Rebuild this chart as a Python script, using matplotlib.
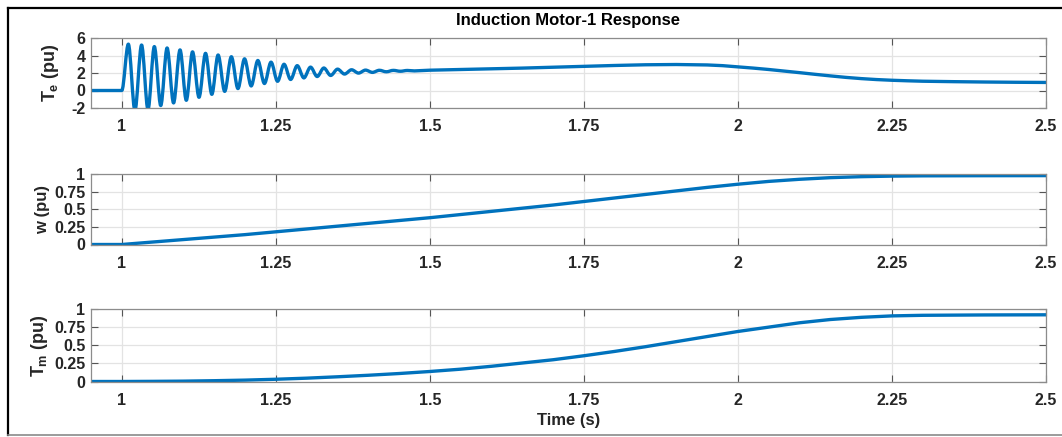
#!/usr/bin/env python3
"""
Induction motor start-up: electrical torque, speed and load torque vs time.
Three stacked panels in MATLAB look.
"""

import matplotlib
matplotlib.use("Agg")
import matplotlib.pyplot as plt
import numpy as np
from matplotlib.path import Path
from matplotlib.patches import PathPatch
from matplotlib.lines import Line2D

# ---- Te: oscillation extrema ----
te_peak_t = [1.0106, 1.0321, 1.0528, 1.0735, 1.0945, 1.1148, 1.1359, 1.1563,
             1.1778, 1.1992, 1.2208, 1.2422, 1.2633, 1.2847, 1.3063, 1.3279,
             1.3502, 1.3729, 1.3956, 1.4180, 1.4407, 1.4635]
te_peak_v = [5.30, 5.20, 5.02, 4.86, 4.64, 4.42, 4.25, 4.06, 3.86, 3.62,
             3.43, 3.24, 3.00, 2.84, 2.67, 2.57, 2.44, 2.37, 2.33, 2.31,
             2.30, 2.29]
te_trough_t = [1.0213, 1.0425, 1.0632, 1.0840, 1.1047, 1.1253, 1.1461, 1.1670,
               1.1885, 1.2100, 1.2315, 1.2528, 1.2740, 1.2955, 1.3171, 1.3390,
               1.3615, 1.3842, 1.4068, 1.4293, 1.4521, 1.4750]
te_trough_v = [-2.30, -2.20, -1.72, -1.42, -1.12, -0.78, -0.44, -0.10, 0.22,
               0.52, 0.80, 1.05, 1.26, 1.44, 1.60, 1.72, 1.88, 1.99, 2.07,
               2.14, 2.20, 2.24]

# ---- Te: slow part after the oscillations die out ----
te_slow_t = [1.500, 1.550, 1.600, 1.650, 1.700, 1.750, 1.800, 1.850, 1.900,
             1.950, 1.975, 2.000, 2.025, 2.050, 2.075, 2.100, 2.125, 2.150,
             2.175, 2.200, 2.225, 2.250, 2.275, 2.300, 2.350, 2.400, 2.450,
             2.500]
te_slow_v = [2.32, 2.40, 2.48, 2.56, 2.66, 2.76, 2.86, 2.94, 2.97,
             2.92, 2.84, 2.70, 2.56, 2.40, 2.22, 2.04, 1.85, 1.67,
             1.50, 1.36, 1.25, 1.17, 1.11, 1.06, 1.01, 0.97, 0.94,
             0.92]

# ---- speed w ----
w_t = [0.95, 1.00, 1.05, 1.10, 1.15, 1.20, 1.25, 1.30, 1.35, 1.40, 1.45,
       1.50, 1.55, 1.60, 1.65, 1.70, 1.75, 1.80, 1.85, 1.90, 1.95, 2.00,
       2.05, 2.10, 2.15, 2.20, 2.25, 2.30, 2.40, 2.50]
w_v = [0.0, 0.0, 0.035, 0.07, 0.105, 0.14, 0.18, 0.22, 0.26, 0.30, 0.34,
       0.38, 0.425, 0.47, 0.515, 0.56, 0.61, 0.66, 0.71, 0.76, 0.81, 0.855,
       0.895, 0.925, 0.948, 0.962, 0.970, 0.974, 0.976, 0.977]

# ---- load torque Tm ----
tm_t = w_t
tm_v = [0.0, 0.0, 0.002, 0.005, 0.011, 0.019, 0.031, 0.046, 0.065, 0.086,
        0.110, 0.138, 0.170, 0.210, 0.255, 0.300, 0.355, 0.415, 0.480, 0.550,
        0.620, 0.690, 0.750, 0.810, 0.855, 0.885, 0.905, 0.913, 0.918, 0.920]

x_ticks = [1, 1.25, 1.5, 1.75, 2, 2.25, 2.5]
x_ticklabels = ['1', '1.25', '1.5', '1.75', '2', '2.25', '2.5']
te_ticks = [-2, 0, 2, 4, 6]
pu_ticks = [0, 0.25, 0.5, 0.75, 1]
pu_ticklabels = ['0', '0.25', '0.5', '0.75', '1']

LINE_COLOR = '#0072BD'
TEXT_COLOR = '#262626'
LW = 2.4

plt.rcParams['font.family'] = ['Liberation Sans', 'DejaVu Sans']
plt.rcParams['font.weight'] = 'bold'
plt.rcParams['axes.labelweight'] = 'bold'
plt.rcParams['mathtext.fontset'] = 'custom'
plt.rcParams['mathtext.rm'] = 'Liberation Sans:bold'
plt.rcParams['mathtext.it'] = 'Liberation Sans:bold'
plt.rcParams['mathtext.bf'] = 'Liberation Sans:bold'


def te_path():
    """Flat line, then smooth half-waves between extrema, then the slow curve."""
    ext_t = np.ravel(np.column_stack([te_peak_t, te_trough_t]))
    ext_v = np.ravel(np.column_stack([te_peak_v, te_trough_v]))
    verts = [(0.95, 0.0), (1.0, 0.0)]
    codes = [Path.MOVETO, Path.LINETO]
    t0, v0 = 1.0, 0.0
    for t1, v1 in zip(ext_t, ext_v):
        dt = t1 - t0
        verts += [(t0 + dt / 3, v0), (t1 - dt / 3, v1), (t1, v1)]
        codes += [Path.CURVE4] * 3
        t0, v0 = t1, v1
    # ease into the slow curve
    t1, v1 = te_slow_t[0], te_slow_v[0]
    dt = t1 - t0
    verts += [(t0 + dt / 3, v0), (t1 - dt / 3, v1), (t1, v1)]
    codes += [Path.CURVE4] * 3
    for t, v in zip(te_slow_t[1:], te_slow_v[1:]):
        verts.append((t, v))
        codes.append(Path.LINETO)
    return Path(verts, codes)


def style_axes(ax, yticks, yticklabels, ylim):
    ax.set_xlim(0.95, 2.5)
    ax.set_ylim(*ylim)
    ax.set_xticks(x_ticks)
    ax.set_xticklabels(x_ticklabels)
    ax.set_yticks(yticks)
    ax.set_yticklabels(yticklabels)
    ax.grid(True, color='#e3e3e3', linewidth=0.9)
    ax.set_axisbelow(True)
    ax.tick_params(direction='in', length=5, width=0.8, color='#555555',
                   top=True, right=True, labelsize=11.5, labelcolor=TEXT_COLOR)
    ax.tick_params(axis='x', pad=8)
    ax.tick_params(axis='y', pad=4)
    for sp in ax.spines.values():
        sp.set_color('#8c8c8c')
        sp.set_linewidth(0.9)


def main():
    fig = plt.figure(figsize=(10.62, 4.37), dpi=100)
    left, width = 91 / 1062, 955 / 1062
    ax1 = fig.add_axes([left, 1 - 108 / 437, width, 70 / 437])
    ax2 = fig.add_axes([left, 1 - 244.5 / 437, width, 70.5 / 437])
    ax3 = fig.add_axes([left, 1 - 381.5 / 437, width, 72.5 / 437])

    # Panel 1: electrical torque
    style_axes(ax1, te_ticks, [str(v) for v in te_ticks], (-2, 6))
    ax1.add_patch(PathPatch(te_path(), fill=False, edgecolor=LINE_COLOR,
                            linewidth=LW, joinstyle='round', capstyle='round'))
    ax1.set_ylabel(r'$T_e$ (pu)', fontsize=13, color=TEXT_COLOR, labelpad=7)

    # Panel 2: speed
    style_axes(ax2, pu_ticks, pu_ticklabels, (0, 1))
    ax2.plot(w_t, w_v, color=LINE_COLOR, linewidth=LW, solid_capstyle='round')
    ax2.set_ylabel('w (pu)', fontsize=12, color=TEXT_COLOR, labelpad=3)

    # Panel 3: mechanical torque
    style_axes(ax3, pu_ticks, pu_ticklabels, (0, 1))
    ax3.plot(tm_t, tm_v, color=LINE_COLOR, linewidth=LW, solid_capstyle='round')
    ax3.set_ylabel(r'$T_m$ (pu)', fontsize=13, color=TEXT_COLOR, labelpad=3)
    ax3.set_xlabel('Time (s)', fontsize=12, color=TEXT_COLOR, labelpad=4)

    fig.text(568.5 / 1062, 1 - 20 / 437, 'Induction Motor-1 Response',
             ha='center', va='center', fontsize=12, fontweight='bold',
             color='#000000')

    # outer frame of the screenshot
    fx, fy = 8 / 1062, 1 - 8 / 437
    fb = 1 - 435 / 437
    fig.add_artist(Line2D([fx, 1.0], [fy, fy], color='black', linewidth=1.6,
                          transform=fig.transFigure))
    fig.add_artist(Line2D([fx, fx], [fb, fy], color='black', linewidth=1.6,
                          transform=fig.transFigure))
    fig.add_artist(Line2D([fx, 1.0], [fb, fb], color='#8a8a8a', linewidth=1.2,
                          transform=fig.transFigure))

    fig.savefig('out.png', dpi=100)
    plt.close(fig)


if __name__ == '__main__':
    main()
